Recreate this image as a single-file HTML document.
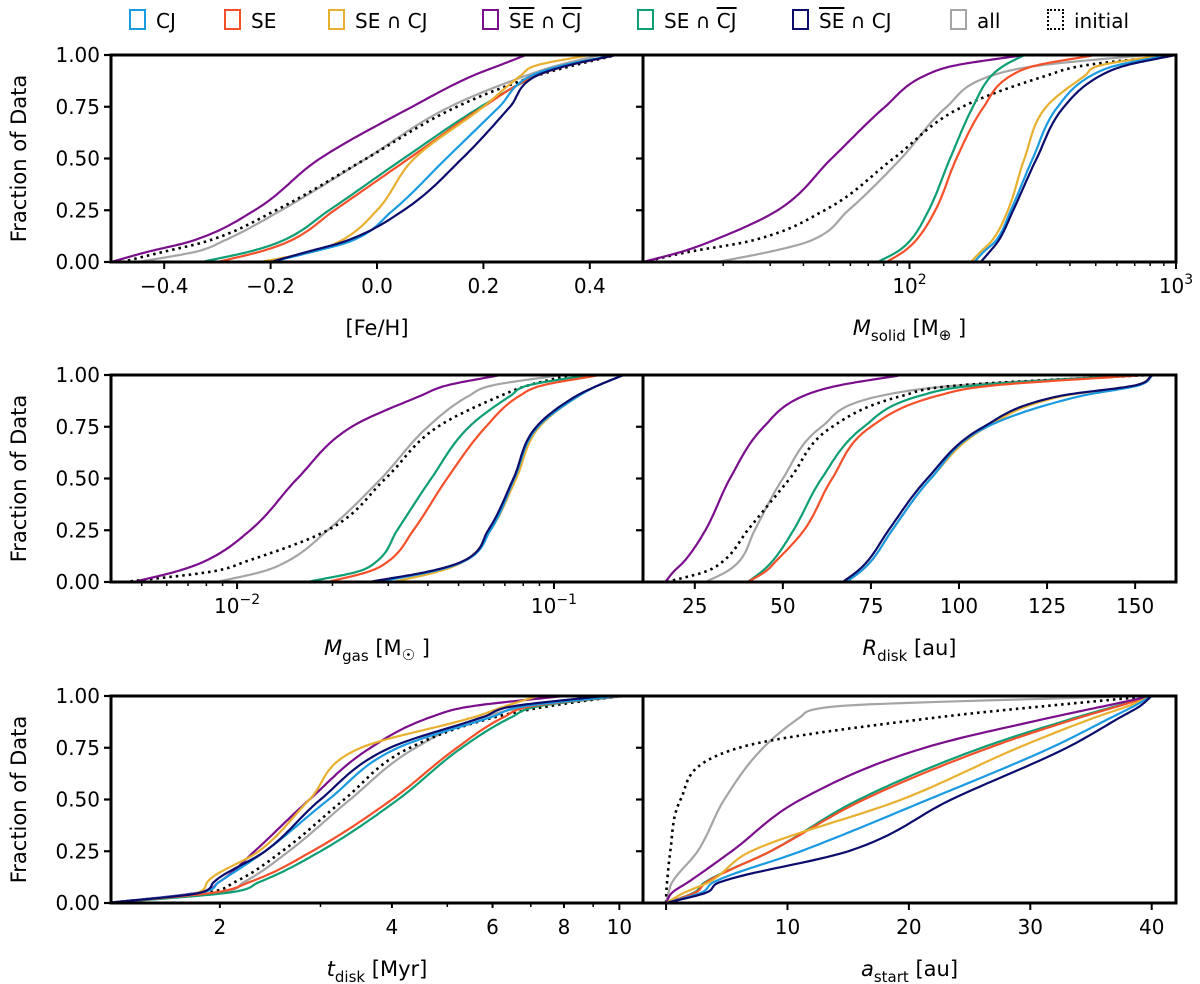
<!DOCTYPE html>
<html><head><meta charset="utf-8">
<style>
html,body{margin:0;padding:0;background:#fff;}
body{width:1200px;height:984px;position:relative;overflow:hidden;font-family:"DejaVu Sans","Liberation Sans",sans-serif;}
.leg{position:absolute;top:8px;height:26px;font-size:20px;line-height:26px;color:#000;white-space:nowrap;}
.leg .box{display:inline-block;width:13px;height:17px;border:2px solid;vertical-align:-2px;margin-right:10px;}
.ov{text-decoration:overline;}
svg{position:absolute;left:0;top:0;}
</style></head>
<body>
<div class="leg" style="left:129px"><span class="box" style="border-color:#1a9ae0"></span>CJ</div>
<div class="leg" style="left:224px"><span class="box" style="border-color:#f5502a"></span>SE</div>
<div class="leg" style="left:328px"><span class="box" style="border-color:#e8b030"></span>SE ∩ CJ</div>
<div class="leg" style="left:482px"><span class="box" style="border-color:#7b0e8c"></span><span class="ov">SE</span> ∩ <span class="ov">CJ</span></div>
<div class="leg" style="left:637px"><span class="box" style="border-color:#0d9e74"></span>SE ∩ <span class="ov">CJ</span></div>
<div class="leg" style="left:792px"><span class="box" style="border-color:#0b0c6c"></span><span class="ov">SE</span> ∩ CJ</div>
<div class="leg" style="left:950px"><span class="box" style="border-color:#a5a5a5"></span>all</div>
<div class="leg" style="left:1047px"><span class="box" style="border-color:#000;border-style:dotted"></span>initial</div>
<svg id="chart" width="1200" height="984" xmlns="http://www.w3.org/2000/svg"></svg>
<script>
const Q = [0,0.05,0.1,0.25,0.5,0.75,0.9,0.95,1];
const yTicks = [0,0.25,0.5,0.75,1];
const yTickLabels = ['0.00','0.25','0.50','0.75','1.00'];
const seriesKeys = ['all','init','SEnCJ','SE','purple','SECJ','CJ','navy'];

const fehCJ=[-0.2,-0.12,-0.05,0.03,0.13,0.23,0.29,0.35,0.45];
const fehSE=[-0.3,-0.22,-0.165,-0.08,0.06,0.2,0.3,0.36,0.45];
const fehSECJ=[-0.22,-0.12,-0.07,0.0,0.07,0.2,0.27,0.3,0.4];
const fehPurple=[-0.5,-0.43,-0.35,-0.23,-0.107,0.066,0.18,0.23,0.28];
const fehSEnCJ=[-0.33,-0.24,-0.18,-0.09,0.05,0.195,0.3,0.35,0.45];
const fehNavy=[-0.2,-0.13,-0.06,0.05,0.16,0.25,0.3,0.36,0.45];
const fehAll=[-0.45,-0.34,-0.29,-0.18,-0.02,0.137,0.28,0.34,0.42];
const fehInit=[-0.48,-0.4,-0.32,-0.19,-0.02,0.15,0.3,0.37,0.45];

const msCJ=[175,190,210,240,290,360,480,600,950];
const msSE=[82,95,105,125,150,190,240,300,500];
const msSECJ=[170,185,203,234,270,326,455,520,900];
const msPurple=[10,14,18,32,51,81,114,149,270];
const msSEnCJ=[76,90,100,118,142,173,203,227,270];
const msNavy=[185,200,215,245,300,380,520,650,1000];
const msAll=[19,30,42,59,93,138,203,309,780];
const msInit=[10,15,25,48,87,158,326,455,1000];

const mgCJ=[0.0276,0.041,0.052,0.063,0.075,0.089,0.12,0.138,0.166];
const mgSE=[0.0193,0.026,0.030,0.036,0.046,0.061,0.078,0.092,0.14];
const mgSECJ=[0.031,0.043,0.052,0.063,0.076,0.09,0.12,0.138,0.166];
const mgPurple=[0.0047,0.0064,0.0079,0.011,0.0155,0.023,0.038,0.046,0.068];
const mgSEnCJ=[0.0166,0.024,0.0276,0.032,0.041,0.054,0.073,0.083,0.129];
const mgNavy=[0.026,0.040,0.0515,0.062,0.0745,0.088,0.118,0.138,0.166];
const mgAll=[0.0086,0.012,0.0144,0.0193,0.0285,0.04,0.054,0.064,0.106];
const mgInit=[0.0044,0.0083,0.0107,0.0193,0.0294,0.043,0.068,0.083,0.113];

const rdCJ=[68,72,75,81,92,108,135,151,155];
const rdSE=[40,45,48,56,64,75,94,110,153];
const rdSECJ=[68,72,75,81,92,108,130,150,155];
const rdPurple=[16.6,19,22,28,35,44.6,56,66,84];
const rdSEnCJ=[40,44,47,53,61,73,89,105,151];
const rdNavy=[67,71,74,80,91,107,129,150,155];
const rdAll=[28,34,37.6,42,50,61,78,100,151];
const rdInit=[17,28,33,40,52,64,84,100,154];

const tdCJ=[1.27,1.85,1.99,2.4,3.1,4.1,6.0,6.8,10];
const tdSE=[1.27,1.95,2.25,2.9,4.0,5.2,6.3,7,10];
const tdSECJ=[1.27,1.83,1.9,2.34,2.87,3.53,5.6,6.3,7.2];
const tdPurple=[1.27,1.83,1.99,2.3,2.87,3.67,4.7,5.5,8];
const tdSEnCJ=[1.27,2.07,2.34,3.0,4.1,5.3,6.5,7.2,10];
const tdNavy=[1.27,1.85,1.95,2.4,3.0,3.97,5.8,6.5,9.4];
const tdAll=[1.27,2.0,2.2,2.64,3.38,4.4,5.8,7,10.3];
const tdInit=[1.27,1.9,2.12,2.57,3.3,4.3,6.1,7.5,10];

const asCJ=[0,2.9,3.9,11.1,21.6,31.7,36.8,38.5,40];
const asSE=[0,2.4,3.3,8.6,16.3,26.6,34.3,37.2,40];
const asSECJ=[0,1.5,3.5,7,19.4,29,35.5,38,40];
const asPurple=[0,0.5,1.8,5.4,11.1,21.3,32,36,40];
const asSEnCJ=[0,2.3,3.2,8.6,15.9,26,34,37,40];
const asNavy=[0,3.3,4.4,15,23.5,33,37.5,39,40];
const asAll=[0,0.2,0.5,2.6,4.8,8,11.1,14,38.7];
const asInit=[0,0.02,0.08,0.35,1.2,6,22.8,31,40];

const colors={CJ:'#1a9ae0',SE:'#f5502a',SECJ:'#e8b030',purple:'#7b0e8c',SEnCJ:'#0d9e74',navy:'#0b0c6c',all:'#a5a5a5',init:'#000'};
const NS='http://www.w3.org/2000/svg';
const svg=document.getElementById('chart');
function mk(tag,attrs,parent){const e=document.createElementNS(NS,tag);for(const k in attrs)e.setAttribute(k,attrs[k]);(parent||svg).appendChild(e);return e;}

// monotone cubic (Fritsch-Carlson) of x as function of t
function monotone(t,x,steps){
  const n=t.length,d=[],m=new Array(n);
  for(let i=0;i<n-1;i++)d.push((x[i+1]-x[i])/(t[i+1]-t[i]));
  m[0]=d[0];m[n-1]=d[n-2];
  for(let i=1;i<n-1;i++){m[i]=(d[i-1]*d[i]<=0)?0:(d[i-1]+d[i])/2;}
  for(let i=0;i<n-1;i++){
    if(d[i]===0){m[i]=0;m[i+1]=0;continue;}
    const a=m[i]/d[i],b=m[i+1]/d[i],s=a*a+b*b;
    if(s>9){const tau=3/Math.sqrt(s);m[i]=tau*a*d[i];m[i+1]=tau*b*d[i];}
  }
  const out=[];
  for(let i=0;i<n-1;i++){
    const h=t[i+1]-t[i];
    for(let k=0;k<steps;k++){
      const s=k/steps,h00=2*s*s*s-3*s*s+1,h10=s*s*s-2*s*s+s,h01=-2*s*s*s+3*s*s,h11=s*s*s-s*s;
      out.push([h00*x[i]+h10*h*m[i]+h01*x[i+1]+h11*h*m[i+1],t[i]+s*h]);
    }
  }
  out.push([x[n-1],t[n-1]]);
  return out;
}

const panels=[
 {id:'feh',x0:111,x1:643,y0:55,y1:262,log:false,dmin:-0.5,dmax:0.5,ticks:[-0.4,-0.2,0,0.2,0.4],tl:['−0.4','−0.2','0.0','0.2','0.4'],minor:[],
  data:{CJ:fehCJ,SE:fehSE,SECJ:fehSECJ,purple:fehPurple,SEnCJ:fehSEnCJ,navy:fehNavy,all:fehAll,init:fehInit},label:'<tspan>[Fe/H]</tspan>',left:true},
 {id:'msolid',x0:643,x1:1176,y0:55,y1:262,log:true,dmin:10,dmax:1000,ticks:[100,1000],tl:[['10','2'],['10','3']],minor:[20,30,40,50,60,70,80,90,200,300,400,500,600,700,800,900],
  data:{CJ:msCJ,SE:msSE,SECJ:msSECJ,purple:msPurple,SEnCJ:msSEnCJ,navy:msNavy,all:msAll,init:msInit},label:'<tspan font-style="italic">M</tspan><tspan font-size="15" dy="6">solid</tspan><tspan dy="-6"> [M</tspan><tspan font-size="15" dy="5">⊕</tspan><tspan dy="-5"> ]</tspan>',left:false},
 {id:'mgas',x0:111,x1:643,y0:375,y1:582,log:true,dmin:0.0040,dmax:0.191,ticks:[0.01,0.1],tl:[['10','−2'],['10','−1']],minor:[0.005,0.006,0.007,0.008,0.009,0.02,0.03,0.04,0.05,0.06,0.07,0.08,0.09],
  data:{CJ:mgCJ,SE:mgSE,SECJ:mgSECJ,purple:mgPurple,SEnCJ:mgSEnCJ,navy:mgNavy,all:mgAll,init:mgInit},label:'<tspan font-style="italic">M</tspan><tspan font-size="15" dy="6">gas</tspan><tspan dy="-6"> [M</tspan><tspan font-size="15" dy="5">☉</tspan><tspan dy="-5"> ]</tspan>',left:true},
 {id:'rdisk',x0:643,x1:1176,y0:375,y1:582,log:false,dmin:10.3,dmax:161.6,ticks:[25,50,75,100,125,150],tl:['25','50','75','100','125','150'],minor:[],
  data:{CJ:rdCJ,SE:rdSE,SECJ:rdSECJ,purple:rdPurple,SEnCJ:rdSEnCJ,navy:rdNavy,all:rdAll,init:rdInit},label:'<tspan font-style="italic">R</tspan><tspan font-size="15" dy="6">disk</tspan><tspan dy="-6"> [au]</tspan>',left:false},
 {id:'tdisk',x0:111,x1:643,y0:696,y1:903,log:true,dmin:1.29,dmax:11.0,ticks:[2,4,6,8,10],tl:['2','4','6','8','10'],minor:[3,5,7,9],
  data:{CJ:tdCJ,SE:tdSE,SECJ:tdSECJ,purple:tdPurple,SEnCJ:tdSEnCJ,navy:tdNavy,all:tdAll,init:tdInit},label:'<tspan font-style="italic">t</tspan><tspan font-size="15" dy="6">disk</tspan><tspan dy="-6"> [Myr]</tspan>',left:true},
 {id:'astart',x0:643,x1:1176,y0:696,y1:903,log:false,dmin:-1.9,dmax:42,ticks:[0,10,20,30,40],tl:['','10','20','30','40'],minor:[],
  data:{CJ:asCJ,SE:asSE,SECJ:asSECJ,purple:asPurple,SEnCJ:asSEnCJ,navy:asNavy,all:asAll,init:asInit},label:'<tspan font-style="italic">a</tspan><tspan font-size="15" dy="6">start</tspan><tspan dy="-6"> [au]</tspan>',left:false}
];

panels.forEach(p=>{
  const sx=v=>p.log? p.x0+(Math.log10(v)-Math.log10(p.dmin))/(Math.log10(p.dmax)-Math.log10(p.dmin))*(p.x1-p.x0)
                   : p.x0+(v-p.dmin)/(p.dmax-p.dmin)*(p.x1-p.x0);
  const sy=f=>p.y1-f*(p.y1-p.y0);
  const g=mk('g',{});
  
  
  const cp=mk('clipPath',{id:'c-'+p.id},g);
  mk('rect',{x:p.x0,y:p.y0-2,width:p.x1-p.x0,height:p.y1-p.y0+4},cp);
  const lines=mk('g',{'clip-path':'url(#c-'+p.id+')'},g);
  seriesKeys.forEach(k=>{
    const xs=p.data[k].map(sx);
    const pts=monotone(Q,xs,16);
    let d='';
    pts.forEach((pt,i)=>{d+=(i?'L':'M')+pt[0].toFixed(1)+','+sy(pt[1]).toFixed(1);});
    d+='L'+(p.x1+5)+','+sy(1).toFixed(1);
    const path=mk('path',{d:d,fill:'none',stroke:colors[k],'stroke-width':k==='init'?2.6:2.2,'stroke-linejoin':'round'},lines);
    if(k==='init'){path.setAttribute('stroke-dasharray','2.5,4');}
    
    
  });
  yTicks.forEach((t,i)=>{
    const y=sy(t);
    mk('line',{x1:p.x0-7,x2:p.x0,y1:y,y2:y,stroke:'#000','stroke-width':2.2},g);
    if(p.left){
      const tx=mk('text',{x:p.x0-11,y:y+7,'text-anchor':'end','font-size':20},g);
      tx.textContent=yTickLabels[i];
      
      
    }
  });
  p.ticks.forEach((t,i)=>{
    const x=sx(t);
    const len=(p.id==='tdisk'&&t!==10)?5:7;
    mk('line',{x1:x,x2:x,y1:p.y1,y2:p.y1+len,stroke:'#000','stroke-width':2},g);
    const lab=p.tl[i];
    if(lab===''||lab===undefined)return;
    const tx=mk('text',{x:x,y:p.y1+31,'text-anchor':'middle','font-size':20},g);
    if(Array.isArray(lab)){
      tx.innerHTML='<tspan>'+lab[0]+'</tspan><tspan font-size="14" dy="-9">'+lab[1]+'</tspan>';
    } else tx.textContent=lab;
    
    
  });
  p.minor.forEach(t=>{
    const x=sx(t);
    mk('line',{x1:x,x2:x,y1:p.y1,y2:p.y1+4,stroke:'#000','stroke-width':1.5},g);
  });
  mk('rect',{x:p.x0,y:p.y0,width:p.x1-p.x0,height:p.y1-p.y0,fill:'none',stroke:'#000','stroke-width':3},g);
  const al=mk('text',{x:(p.x0+p.x1)/2,y:p.y1+73,'text-anchor':'middle','font-size':21},g);
  al.innerHTML=p.label;
  
  
  if(p.left){
    const cy=(p.y0+p.y1)/2;
    const yl=mk('text',{x:0,y:0,'text-anchor':'middle','font-size':21,transform:'translate(26,'+cy+') rotate(-90)'},g);
    yl.textContent='Fraction of Data';
    
    
  }
});
</script>
</body></html>
